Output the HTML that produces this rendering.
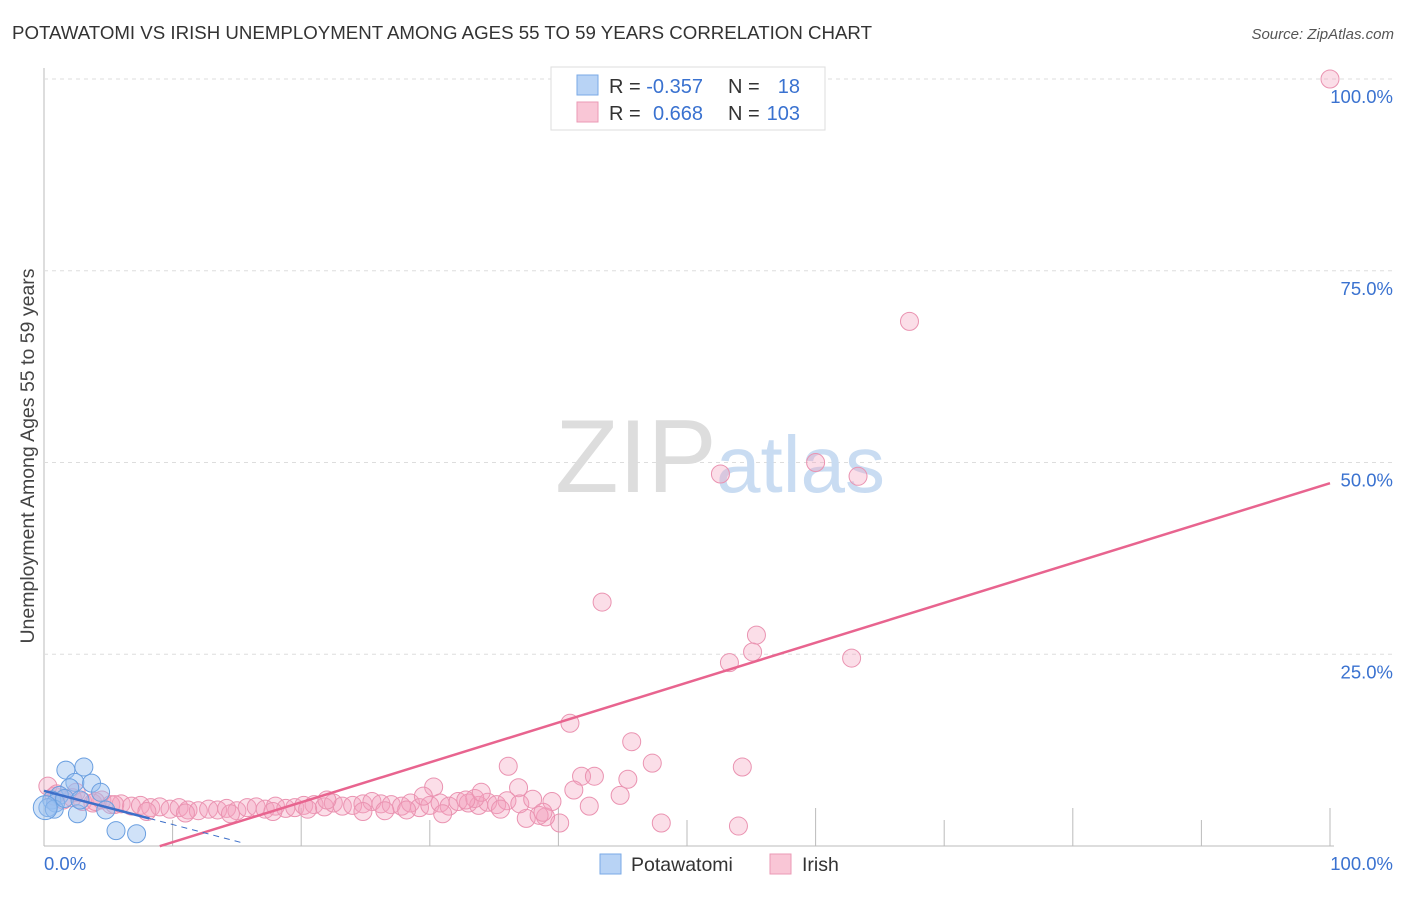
<!DOCTYPE html>
<html><head><meta charset="utf-8"><style>
body{margin:0;background:#fff;font-family:"Liberation Sans",sans-serif;}
svg text{font-family:"Liberation Sans",sans-serif;}
</style></head><body>
<svg id="chart" width="1406" height="892" viewBox="0 0 1406 892" xmlns="http://www.w3.org/2000/svg">
<text x="12" y="39" font-size="18" fill="#333" textLength="860" lengthAdjust="spacingAndGlyphs">POTAWATOMI VS IRISH UNEMPLOYMENT AMONG AGES 55 TO 59 YEARS CORRELATION CHART</text>
<text x="1394" y="39" font-size="15" fill="#555" text-anchor="end" font-style="italic">Source: ZipAtlas.com</text>
<g id="grid"></g>
<g><text x="555" y="492" font-size="104" fill="#ddd" font-family="Liberation Serif,serif">ZIP</text><text x="716" y="492" font-size="80" fill="#c9dcf2">atlas</text></g>
<text transform="translate(34,456) rotate(-90)" font-size="19.5" fill="#444" text-anchor="middle">Unemployment Among Ages 55 to 59 years</text>
<g id="marks"></g>
<g>
<rect x="551" y="67" width="274" height="63" fill="#fff" stroke="#ddd"/>
<rect x="577" y="75" width="21" height="20" fill="#b8d3f5" stroke="#7aaae6"/>
<rect x="577" y="102" width="21" height="20" fill="#f9c6d6" stroke="#eb9ab5"/>
<text x="609" y="93" font-size="20" fill="#333">R = <tspan fill="#3a72d0">-0.357</tspan></text>
<text x="728" y="93" font-size="20" fill="#333">N = </text><text x="800" y="93" font-size="20" fill="#3a72d0" text-anchor="end">18</text>
<text x="609" y="120" font-size="20" fill="#333">R = </text><text x="653" y="120" font-size="20" fill="#3a72d0">0.668</text>
<text x="728" y="120" font-size="20" fill="#333">N = </text><text x="800" y="120" font-size="20" fill="#3a72d0" text-anchor="end">103</text>
</g>
<g>
<rect x="600" y="854" width="21" height="20" fill="#b8d3f5" stroke="#7aaae6"/>
<text x="631" y="871" font-size="19.5" fill="#333">Potawatomi</text>
<rect x="770" y="854" width="21" height="20" fill="#f9c6d6" stroke="#eb9ab5"/>
<text x="802" y="871" font-size="19.5" fill="#333">Irish</text>
</g>
</svg>
<script>
const yTicks=[25,50,75,100];
const yTickLabels=["25.0%","50.0%","75.0%","100.0%"];
const xTicks=[10,20,30,40,50,60,70,80,90,100];
const blueX=[1.7,3.1,2.4,3.7,4.4,2.0,1.2,0.6,0.9,0.3,0.8,2.6,4.8,5.6,7.2,0.1,1.6,2.8];
const blueY=[9.9,10.3,8.3,8.2,7.0,7.6,6.6,6.0,5.6,5.0,4.8,4.2,4.7,2.0,1.6,5.0,6.2,6.0];
const pinkX=[100,67.3,60,63.3,52.6,43.4,55.4,55.1,53.3,62.8,40.9,45.7,47.3,54.3,36.1,41.8,42.8,45.4,30.3,36.9,41.2,44.8,42.4,48,54,40.1,37.5,39.0,
0.3,0.8,1.5,2.2,3.0,3.8,4.5,5.2,6.0,6.8,7.5,8.3,9.0,9.8,10.5,11.2,12.0,12.8,13.5,14.2,15.0,15.8,16.5,17.2,18.0,18.8,19.5,20.2,21.0,21.8,22.5,23.2,24.0,24.8,25.5,26.2,27.0,27.8,28.5,29.2,30.0,30.8,31.5,32.2,33.0,33.8,34.5,35.2,36.0,37.0,38.0,39.5,
5.5,8.0,11.0,14.5,17.8,20.5,22.0,24.8,26.5,28.2,31.0,33.5,35.5,38.5,29.5,32.8,34.0,1.0,2.5,4.0,38.8];
const pinkY=[100,68.4,50,48.2,48.5,31.8,27.5,25.3,23.9,24.5,16,13.6,10.8,10.3,10.4,9.1,9.1,8.7,7.7,7.6,7.3,6.6,5.2,3,2.6,3,3.6,3.8,
7.8,6.5,6.0,6.3,5.8,5.6,6.0,5.4,5.5,5.2,5.3,5.0,5.1,4.8,5.0,4.7,4.6,4.8,4.7,4.9,4.6,5.0,5.1,4.8,5.2,4.9,5.0,5.3,5.4,5.1,5.6,5.2,5.3,5.5,5.8,5.5,5.4,5.2,5.6,5.0,5.3,5.6,5.2,5.8,5.6,5.3,5.7,5.4,5.9,5.5,6.1,5.8,
5.4,4.5,4.3,4.2,4.5,4.8,6.0,4.5,4.6,4.7,4.2,6.2,4.8,4.0,6.5,6.0,7.0,6.8,7.0,5.8,4.4];
const X0=44,X1=1330,YB=846,YT=79;
function sx(v){return X0+(X1-X0)*v/100;}
function sy(v){return YB-(YB-YT)*v/100;}
const NS="http://www.w3.org/2000/svg";
function mk(t,a,p){const e=document.createElementNS(NS,t);for(const k in a)e.setAttribute(k,a[k]);p.appendChild(e);return e;}
const grid=document.getElementById('grid');
const marks=document.getElementById('marks');
const ax=mk('line',{x1:X0,y1:68,x2:X0,y2:YB,stroke:'#bbb'},grid);


const bx=mk('line',{x1:X0,y1:YB,x2:X1+4,y2:YB,stroke:'#bbb'},grid);


yTicks.forEach((v,i)=>{
  const g=mk('line',{x1:X0,y1:sy(v),x2:1394,y2:sy(v),stroke:'#ddd','stroke-dasharray':'4,4'},grid);
  
  
  const t=mk('text',{x:1393,y:sy(v)+24,'font-size':18.5,fill:'#3a72d0','text-anchor':'end'},grid);
  t.textContent=yTickLabels[i];
  
  
});
xTicks.forEach(v=>{
  const l=mk('line',{x1:sx(v),y1:YB,x2:sx(v),y2:YB-(v%20==0?38:26),stroke:'#bbb'},grid);
  
  
});
const xl=mk('text',{x:44,y:870,'font-size':18.5,fill:'#3a72d0'},grid);xl.textContent='0.0%';


const xr=mk('text',{x:1393,y:870,'font-size':18.5,fill:'#3a72d0','text-anchor':'end'},grid);xr.textContent='100.0%';


pinkX.forEach((v,i)=>{
  const c=mk('circle',{cx:sx(v),cy:sy(pinkY[i]),r:9,fill:'rgba(244,160,190,0.35)',stroke:'#ea93b1','stroke-width':1},marks);
  
  
});
blueX.forEach((v,i)=>{
  const c=mk('circle',{cx:sx(v),cy:sy(blueY[i]),r:i==15?12:9,fill:'rgba(150,190,240,0.45)',stroke:'#6a9fe0','stroke-width':1},marks);
  
  
});
const pi=[-4.7,0.52],bi=[7.2,-0.44];
const pl=mk('line',{x1:sx(9),y1:sy(pi[0]+pi[1]*9),x2:sx(100),y2:sy(pi[0]+pi[1]*100),stroke:'#e8648f','stroke-width':2.5},marks);


const bl=mk('line',{x1:sx(0),y1:sy(bi[0]),x2:sx(8.2),y2:sy(bi[0]+bi[1]*8.2),stroke:'#3d6fc9','stroke-width':2.5},marks);


const bd=mk('line',{x1:sx(8.2),y1:sy(bi[0]+bi[1]*8.2),x2:sx(15.5),y2:sy(bi[0]+bi[1]*15.5),stroke:'#3d6fc9','stroke-width':1,'stroke-dasharray':'6,5'},marks);


</script>
</body></html>
